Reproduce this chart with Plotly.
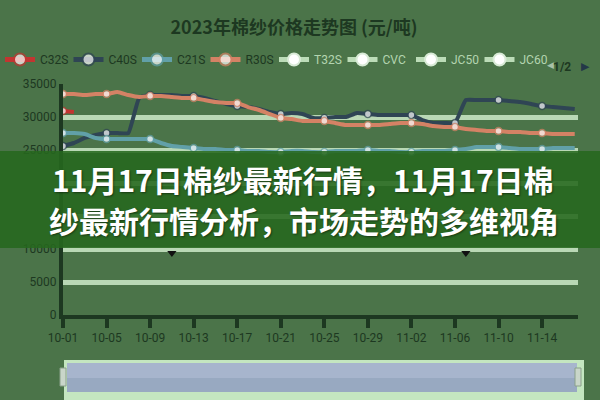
import plotly.graph_objects as go
import pandas as pd

# ---------------- data ----------------
dates = [d.strftime("%m-%d") for d in pd.date_range("2023-10-01", "2023-11-17")]
tick_labels = ["10-01", "10-05", "10-09", "10-13", "10-17", "10-21",
               "10-25", "10-29", "11-02", "11-06", "11-10", "11-14"]
y_ticks = [0, 5000, 10000, 15000, 20000, 25000, 30000, 35000]
# 15000 / 20000 sit under the headline band and cannot be seen in the reference
y_tick_text = ["0", "5000", "10000", "", "", "25000", "30000", "35000"]

active_names = ["C32S", "C40S", "C21S", "R30S"]
inactive_names = ["T32S", "CVC", "JC50", "JC60"]

red_vals = [30910, 30760]
navy_vals = [25600, 26060, 26820, 27270, 27570, 27570, 27570, 32880, 33330, 33330,
             33330, 33180, 33180, 32880, 32420, 31970, 31660, 31510, 31210, 30760,
             30450, 30600, 30450, 29850, 29850, 30000, 30000, 30600, 30450, 30300,
             30300, 30300, 30300, 29540, 29090, 29090, 29090, 32570, 32570, 32570,
             32570, 32420, 32270, 31970, 31660, 31510, 31360, 31210]
blue_vals = [27570, 27570, 27420, 26820, 26660, 26660, 26660, 26660, 26660, 26060,
             25600, 25450, 25300, 25150, 25150, 25000, 25000, 24850, 24850, 24690,
             24690, 24850, 24850, 24690, 24690, 24850, 24850, 24850, 25000, 24850,
             24850, 24690, 24690, 24850, 24850, 24850, 25000, 25150, 25450, 25450,
             25450, 25300, 25150, 25150, 25150, 25300, 25300, 25300]
orange_vals = [33480, 33480, 33330, 33480, 33480, 33790, 33330, 33030, 33180, 33180,
               33030, 32880, 32880, 32570, 32270, 32120, 32120, 31510, 31060, 30450,
               29850, 29690, 29390, 29390, 29390, 29090, 28790, 28790, 28790, 28790,
               28940, 29090, 29090, 28940, 28630, 28480, 28480, 28180, 28030, 27880,
               27880, 27730, 27730, 27570, 27570, 27420, 27420, 27420]
flag_dates = ["10-11", "11-07"]
flag_vals = [9390, 9390]

title_text = "2023年棉纱价格走势图 (元/吨)"
overlay_lines = ["11月17日棉纱最新行情，11月17日棉", "纱最新行情分析，市场走势的多维视角"]

# ---------------- style ----------------
BG = "#4b7449"
DARK = "#1d3821"
GRID = "#b9d8b5"
colors = ["#c23531", "#2f4554", "#61a0a8", "#d48265"]
W, H = 600, 400
L, R, T, B = 63, 22, 84, 85
PW, PH = W - L - R, H - T - B


def px2x(px):
    return (px - L) / PW


def px2y(py):
    return (H - B - py) / PH


def msizes(n):
    return [7 if i % 4 == 0 else 0 for i in range(n)]


fig = go.Figure()
series = [(dates[:2], red_vals), (dates, navy_vals), (dates, blue_vals), (dates, orange_vals)]
for (xs, vals), name, c in zip(series, active_names, colors):
    fig.add_trace(go.Scatter(
        x=xs, y=vals, mode="lines+markers",
        name=f"<span style='color:{DARK}'>{name}</span>",
        line=dict(color=c, width=4, shape="spline", smoothing=0.4),
        marker=dict(size=msizes(len(vals)), color="white", line=dict(color=c, width=1.5)),
        hoverinfo="skip"))
for name in inactive_names:
    fig.add_trace(go.Scatter(
        x=[dates[0]], y=[None], mode="lines+markers",
        name=f"<span style='color:#b4d4b0'>{name}</span>",
        line=dict(color="#bcdcb8", width=4),
        marker=dict(size=7, color="white", line=dict(color="#d8ead6", width=1.5)),
        hoverinfo="skip"))
fig.add_trace(go.Scatter(x=flag_dates, y=flag_vals, mode="markers", showlegend=False,
                         marker=dict(symbol="triangle-down", size=8, color="#111"),
                         hoverinfo="skip"))

shapes = [
    # overlay band
    dict(type="rect", xref="paper", yref="paper", x0=px2x(0), x1=px2x(600),
         y0=px2y(248), y1=px2y(151), fillcolor="rgba(38,104,30,0.88)",
         line=dict(width=0), layer="above"),
    # data zoom slider
    dict(type="rect", xref="paper", yref="paper", x0=px2x(64), x1=px2x(584),
         y0=px2y(400), y1=px2y(360), fillcolor="#c4e6c0", line=dict(width=0)),
    dict(type="rect", xref="paper", yref="paper", x0=px2x(67), x1=px2x(577),
         y0=px2y(378), y1=px2y(363), fillcolor="#a7b5cd", line=dict(width=0)),
    dict(type="rect", xref="paper", yref="paper", x0=px2x(67), x1=px2x(577),
         y0=px2y(392), y1=px2y(378), fillcolor="#98a9c1", line=dict(width=0)),
    dict(type="rect", xref="paper", yref="paper", x0=px2x(60), x1=px2x(66),
         y0=px2y(386), y1=px2y(368), fillcolor="#c9d6c9", line=dict(color="#8aa08a", width=1)),
    dict(type="rect", xref="paper", yref="paper", x0=px2x(575), x1=px2x(581),
         y0=px2y(386), y1=px2y(368), fillcolor="#c9d6c9", line=dict(color="#8aa08a", width=1)),
]

headline_font = dict(family="Noto Sans CJK SC", size=30, color="white",
                     shadow="1px 1px 2px rgba(0,0,0,0.45)")
annotations = [
    dict(xref="paper", yref="paper", x=px2x(303), y=px2y(178.5), yanchor="middle",
         text=f"<b>{overlay_lines[0]}</b>", showarrow=False, font=headline_font),
    dict(xref="paper", yref="paper", x=px2x(304), y=px2y(220.5), yanchor="middle",
         text=f"<b>{overlay_lines[1]}</b>", showarrow=False, font=headline_font),
    dict(xref="paper", yref="paper", x=px2x(556), y=px2y(58), text="◀", showarrow=False,
         font=dict(family="DejaVu Sans", size=9, color="#a8c0a8")),
    dict(xref="paper", yref="paper", x=px2x(573), y=px2y(58), text="<b>1/2</b>", showarrow=False,
         font=dict(size=12, color=DARK)),
    dict(xref="paper", yref="paper", x=px2x(592), y=px2y(58), text="▶", showarrow=False,
         font=dict(family="DejaVu Sans", size=11, color="#243848")),
]

fig.update_layout(
    width=W, height=H, margin=dict(l=L, r=R, t=T, b=B, autoexpand=False),
    paper_bgcolor=BG, plot_bgcolor=BG,
    font=dict(family="Roboto, Noto Sans CJK SC", size=12, color=DARK),
    title=dict(text=f"<b>{title_text}</b>", x=0.49, xanchor="center", y=1 - 28 / H,
               yanchor="middle", font=dict(family="Noto Sans CJK SC", size=18, color=DARK)),
    legend=dict(orientation="h", x=px2x(0), y=px2y(45),
                xanchor="left", yanchor="top", entrywidth=23.5, entrywidthmode="pixels",
                itemsizing="constant", itemwidth=30, bgcolor="rgba(0,0,0,0)",
                font=dict(size=12), tracegroupgap=0),
    xaxis=dict(type="category", categoryorder="array", categoryarray=dates,
               range=[0, 47.3], tickvals=tick_labels, ticktext=tick_labels,
               showgrid=False, showline=True, linecolor=DARK, linewidth=4,
               ticks="outside", ticklen=9, tickwidth=4, tickcolor=DARK,
               tickfont=dict(size=12, color=DARK), zeroline=False, fixedrange=True,
               automargin=False),
    yaxis=dict(range=[0, 35000], tickvals=y_ticks, ticktext=y_tick_text, showgrid=True,
               gridcolor=GRID, gridwidth=5, showline=True, linecolor=DARK, linewidth=4,
               zeroline=False, tickfont=dict(size=12, color=DARK), ticks="",
               fixedrange=True, automargin=False),
    shapes=shapes, annotations=annotations, showlegend=True,
)

fig.write_html("out.html", config={"displayModeBar": False},
               post_script="document.body.style.margin='0';")
